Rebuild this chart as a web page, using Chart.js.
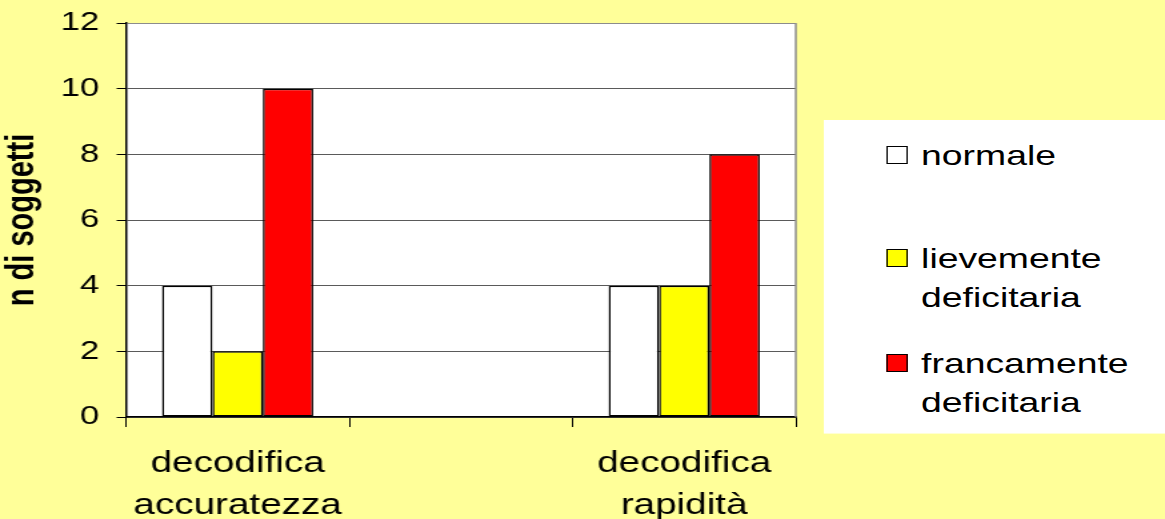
<!DOCTYPE html>
<html lang="it">
<head>
<meta charset="UTF-8">
<title>n di soggetti</title>
<script src="https://cdn.jsdelivr.net/npm/chart.js@4.4.0/dist/chart.umd.min.js"></script>
<style>
  html, body { margin: 0; padding: 0; background: #FFFF99; overflow: hidden; }
  /* drawn narrow, then widened to the slide's 16:9 stretch */
  #wrap { position: relative; width: 874px; height: 519px; transform: scaleX(1.333); transform-origin: 0 0; }
  #legend { position: absolute; left: 618px; top: 120px; width: 256px; height: 313px; background: #fff;
            font-family: "Liberation Sans", Arial, sans-serif; font-size: 28px; line-height: 39px; color: #000; }
  .item { position: absolute; left: 73px; }
  .swatch { position: absolute; left: -26px; top: 10px; width: 14px; height: 16px; border: 1.5px solid #000; }
</style>
</head>
<body>
<div id="wrap">
  <canvas id="chart" width="874" height="519"></canvas>
  <div id="legend"></div>
</div>
<script>
const categories = [['decodifica', 'accuratezza'], '', ['decodifica', 'rapidità']];
const seriesNames = [['normale'], ['lievemente', 'deficitaria'], ['francamente', 'deficitaria']];
const normale = [4, null, 4];
const lievemente = [2, null, 4];
const francamente = [10, null, 8];
const colors = ['#FFFFFF', '#FFFF00', '#FF0000'];
const yTicks = [0, 2, 4, 6, 8, 10, 12];

const font = '"Liberation Sans", Arial, sans-serif';

// white plot area with a grey frame on the right
const plotFrame = {
  id: 'plotFrame',
  beforeDraw(chart) {
    const { ctx, chartArea: a } = chart;
    ctx.save();
    ctx.fillStyle = '#fff';
    ctx.fillRect(a.left, a.top, a.right - a.left, a.bottom - a.top);
    ctx.restore();
  },
  afterDraw(chart) {
    const { ctx, chartArea: a } = chart;
    ctx.save();
    ctx.strokeStyle = '#8c8c8c';
    ctx.lineWidth = 1.5;
    ctx.beginPath();
    ctx.moveTo(a.right, a.top);
    ctx.lineTo(a.right, a.bottom);
    ctx.stroke();
    ctx.restore();
  }
};

const datasets = [normale, lievemente, francamente].map((d, i) => ({
  label: seriesNames[i].join(' '),
  data: d,
  backgroundColor: colors[i],
  borderColor: '#000',
  borderWidth: 1.5,
  borderSkipped: false,
  categoryPercentage: 0.677,
  barPercentage: 1
}));

new Chart(document.getElementById('chart'), {
  type: 'bar',
  data: { labels: categories, datasets },
  plugins: [plotFrame],
  options: {
    responsive: false,
    animation: false,
    devicePixelRatio: 1,
    layout: { padding: { left: 0, right: 277, top: 23, bottom: 0 } },
    plugins: { legend: { display: false }, tooltip: { enabled: false } },
    scales: {
      x: {
        afterFit: s => { s.height = 102; s.paddingLeft = 0; s.paddingRight = 0; },
        grid: { offset: true, drawOnChartArea: false, drawTicks: true, tickLength: 10, color: '#000', lineWidth: 1 },
        border: { color: '#000', width: 1.5 },
        ticks: { color: '#000', padding: 16, maxRotation: 0, autoSkip: false,
                 font: { family: font, size: 29, lineHeight: 1.45 } }
      },
      y: {
        min: 0, max: 12,
        afterFit: s => { s.width = 94.5; s.paddingTop = 0; s.paddingBottom = 0; },
        afterBuildTicks: s => { s.ticks = yTicks.map(v => ({ value: v })); },
        grid: { color: c => c.tick && c.tick.value === 12 ? '#8c8c8c' : '#5a5a5a', lineWidth: 1,
                tickLength: 7, tickColor: '#000' },
        border: { color: '#000', width: 1.5 },
        ticks: { color: '#000', padding: 13, font: { family: font, size: 26 } },
        title: { display: true, text: 'n di soggetti', color: '#000', padding: 0,
                 font: { family: font, size: 29, weight: 'bold' } }
      }
    }
  }
});

// legend with wrapped names
const legend = document.getElementById('legend');
const itemTops = [16, 119, 224];
seriesNames.forEach((lines, i) => {
  const item = document.createElement('div');
  item.className = 'item';
  item.style.top = itemTops[i] + 'px';
  item.innerHTML = '<span class="swatch" style="background:' + colors[i] + '"></span>' + lines.join('<br>');
  legend.appendChild(item);
});
</script>
</body>
</html>
